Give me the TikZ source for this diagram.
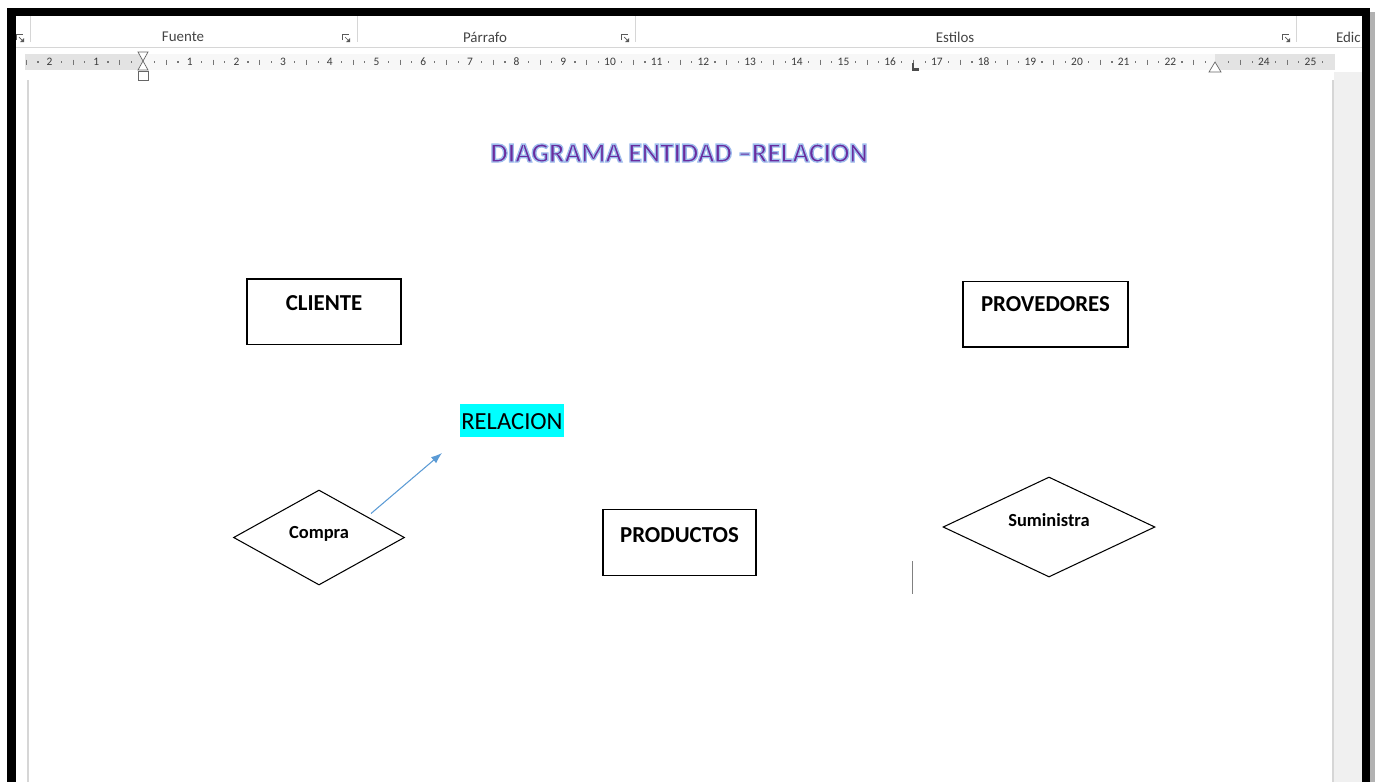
\documentclass[tikz,border=0pt]{standalone}
\usepackage{fontspec}
\setmainfont{Carlito}
\usepackage{tikz}
\usetikzlibrary{shapes.geometric,arrows.meta,positioning}

\definecolor{titlepurple}{HTML}{6A2C9E}
\definecolor{arrowblue}{HTML}{5B9BD5}
\definecolor{hlcyan}{HTML}{00FFFF}
\definecolor{rulerbg}{HTML}{E3E3E3}
\definecolor{rulertext}{HTML}{3A3A3A}
\definecolor{chromeline}{HTML}{D6D6D6}
\definecolor{sidegray}{HTML}{F0F0F0}
\definecolor{ribbontext}{HTML}{444444}

% glow round the title: stroke the letters in light blue
\newcommand{\glowtext}[1]{\special{pdf:literal 2 Tr 0.75 w 0.62 0.74 0.93 RG}#1\special{pdf:literal 0 Tr}}

\begin{document}
\begin{tikzpicture}[x=0.02cm, y=-0.02cm,
		entity/.style={draw, line width=0.8pt, minimum height=1.31cm, inner sep=0pt},
		entitytext/.style={font=\bfseries\fontsize{13}{15}\selectfont, anchor=base, inner sep=0pt},
		relation/.style={draw, diamond, line width=0.6pt, inner sep=0pt},
		relationtext/.style={font=\bfseries\fontsize{10.5}{12}\selectfont, anchor=base, inner sep=0pt},
		titletext/.style={font=\bfseries\fontsize{15.7}{18}\selectfont, anchor=base, inner sep=0pt},
		ribbonlabel/.style={font=\fontsize{8.5}{10}\selectfont, text=ribbontext, inner sep=0pt},
		rulernum/.style={font=\fontsize{6.5}{7}\selectfont, text=rulertext, inner sep=0pt},
		marker/.style={draw=gray!80!black, fill=white, line width=0.4pt},
		launcher/.style={draw=gray!70!black, line width=0.4pt}]

			\useasboundingbox (0,0) rectangle (1375,782);
			\fill[white] (0,0) rectangle (1375,782);

			% ribbon
			\draw[chromeline] (16,47) -- (1362,47);
			\foreach \s in {30,357,635,1296}
				\draw[chromeline] (\s,16) -- (\s,42);
			\node[ribbonlabel] (fuente) at (183,37) {Fuente};
			\node[ribbonlabel] (parrafo) at (485,37) {Párrafo};
			\node[ribbonlabel] (estilos) at (955,37) {Estilos};
			\node[ribbonlabel, anchor=east] (edicion) at (1361,37) {Edic};
			\foreach \l in {20,346,625,1286} {
				\draw[launcher] (\l-4,40) -- (\l-4,34) -- (\l+3,34);
				\draw[launcher] (\l-1,37) -- (\l+3,41);
				\fill[gray!70!black] (\l+4,42) -- (\l+4,38) -- (\l,42) -- cycle;
			}

			% ruler
			\fill[rulerbg] (25,54) rectangle (1335,70);
			\fill[white!97!black] (143,54) rectangle (1215,70);
			\foreach \q in {-10,...,101} {
				\pgfmathtruncatemacro\r{mod(\q+40,4)}
				\ifnum\r=2 \draw[rulertext!70, line width=0.4pt] (143+11.675*\q,59.5) -- (143+11.675*\q,64.5); \fi
				\ifodd\q \fill[rulertext!70] (143+11.675*\q-0.6,61.4) rectangle (143+11.675*\q+0.6,62.6); \fi
			}
			\foreach \n in {1,...,22,24,25}
				\node[rulernum] (rn\n) at (143+46.7*\n,62) {\n};
			\foreach \n in {1,2}
				\node[rulernum] (rl\n) at (143-46.7*\n,62) {\n};
			\draw[marker] (138,52) -- (148,52) -- (143,61) -- cycle;
			\draw[marker] (143,61) -- (148,70) -- (138,70) -- cycle;
			\draw[marker] (138,71) rectangle (148,80);
			\draw[marker] (1215,62) -- (1221,72) -- (1209,72) -- cycle;
			\draw[gray!60!black, line width=1.3pt] (913,63) -- (913,69.5) -- (919,69.5);

			% page
			\fill[sidegray] (1334,72) rectangle (1362,782);
			\draw[chromeline, line width=0.6pt] (28,80) -- (28,782);
			\draw[chromeline, line width=0.6pt] (1333,80) -- (1333,782);

			% frame
			\fill[black] (7,8) rectangle (1370,16);
			\fill[black] (7,8) rectangle (16,782);
			\fill[black] (1362,8) rectangle (1370,782);
			\fill[gray!60] (1370,12) rectangle (1375,782);

			% title
			\node[titletext, text=titlepurple] (titulo) at (679,162) {\glowtext{DIAGRAMA ENTIDAD –RELACION}};

			% entities
			\node[entity, minimum width=3.08cm] (cliente) at (324,311.7) {};
			\node[entitytext] (clienteTxt) at (324,310) {CLIENTE};
			\node[entity, minimum width=3.3cm] (provedores) at (1045.5,314.2) {};
			\node[entitytext] (provedoresTxt) at (1045.5,311.5) {PROVEDORES};
			\node[entity, minimum width=3.06cm] (productos) at (679.5,542.5) {};
			\node[entitytext] (productosTxt) at (679.5,542.5) {PRODUCTOS};

			% relations
			\node[relation, minimum width=3.42cm, minimum height=1.9cm] (compra) at (319,537.5) {};
			\node[relationtext] (compraTxt) at (319,538.5) {Compra};
			\node[relation, minimum width=4.24cm, minimum height=2.0cm] (suministra) at (1049,527) {};
			\node[relationtext] (suministraTxt) at (1049,526.5) {Suministra};

			\node[font=\fontsize{14}{16}\selectfont, fill=hlcyan, anchor=base, inner xsep=0.03cm, inner ysep=0pt, text height=0.5cm, text depth=0.16cm] (relacion) at (512,429) {RELACION};
			\coordinate (relTip) at (442,453);
			\draw[arrowblue, line width=0.6pt, -{Latex[length=0.22cm,width=0.16cm]}] ([xshift=0.18cm]compra.north east) -- (relTip);

			% cursor
			\draw[gray, line width=0.5pt] (912.5,561) -- (912.5,594);

\end{tikzpicture}
\end{document}
